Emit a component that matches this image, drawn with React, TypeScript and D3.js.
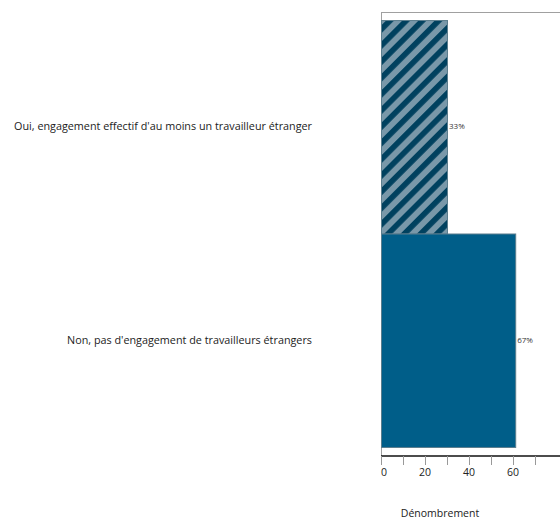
import React from "react";
import * as d3 from "d3";

const categories = [
  "Oui, engagement effectif d'au moins un travailleur étranger",
  "Non, pas d'engagement de travailleurs étrangers",
];
const counts = [30, 61];
const percentLabels = ["33%", "67%"];
const tickValues = [0, 10, 20, 30, 40, 50, 60, 70];
const tickLabelValues = [0, 20, 40, 60];
const axisTitle = "Dénombrement";

const W = 560;
const H = 521;
const left = 381;
const right = 560;
const top = 12;
const bottom = 456;
const FONT = "'Open Sans', 'Noto Sans', sans-serif";

export default function App() {
  const x = d3.scaleLinear().domain([0, (right - left) / 2.2]).range([left, right]);
  const y = d3
    .scaleBand<string>()
    .domain(categories)
    .range([top, bottom])
    .paddingInner(0)
    .paddingOuter(0.04);

  return (
    <svg
      width={W}
      height={H}
      style={{ position: "absolute", left: 0, top: 0, background: "#fff" }}
    >
      <defs>
        <pattern
          id="stripes"
          patternUnits="userSpaceOnUse"
          width={11.5}
          height={11.5}
          patternTransform="rotate(-45)"
        >
          <rect width={11.5} height={11.5} fill="#7998a9" />
          <rect width={11.5} height={5.6} fill="#00415f" />
        </pattern>
      </defs>
      {/* top border and left axis */}
      <line x1={left} x2={right} y1={top + 0.5} y2={top + 0.5} stroke="#a0a0a0" strokeWidth={1} />
      <line x1={left + 0.5} x2={left + 0.5} y1={top} y2={bottom} stroke="#a0a0a0" strokeWidth={1} />

      {categories.map((c, i) => {
        const y0 = y(c)!;
        const bw = y.bandwidth();
        return (
          <g key={c}>
            <rect
              x={x(0) + 0.5}
              y={y0}
              width={x(counts[i]) - x(0)}
              height={bw}
              fill={i === 0 ? "url(#stripes)" : "#005e89"}
              stroke="#5b7d8d"
              strokeWidth={1}
            />
            <text
              x={x(counts[i]) + 2}
              y={y0 + bw / 2}
              fontSize={8}
              fontFamily={FONT}
              fill="#333"
              dominantBaseline="middle"
            >
              {percentLabels[i]}
            </text>
            <text
              x={312}
              y={y0 + bw / 2}
              fontSize={10.8}
              fontFamily={FONT}
              fill="#222"
              textAnchor="end"
              dominantBaseline="middle"
            >
              {c}
            </text>
          </g>
        );
      })}

      {/* bottom axis */}
      <line x1={left} x2={right} y1={bottom} y2={bottom} stroke="#111" strokeWidth={1.5} />
      {tickValues.map((t) => (
        <line
          key={t}
          x1={x(t) + 0.5}
          x2={x(t) + 0.5}
          y1={bottom}
          y2={bottom + 9}
          stroke="#999"
          strokeWidth={1}
        />
      ))}
      {tickLabelValues.map((t) => (
        <text
          key={t}
          x={t === 0 ? x(t) + 3 : x(t)}
          y={476}
          fontSize={10.5}
          fontFamily={FONT}
          fill="#222"
          textAnchor="middle"
        >
          {t}
        </text>
      ))}
      <text x={440} y={517} fontSize={10.5} fontFamily={FONT} fill="#222" textAnchor="middle">
        {axisTitle}
      </text>
    </svg>
  );
}
